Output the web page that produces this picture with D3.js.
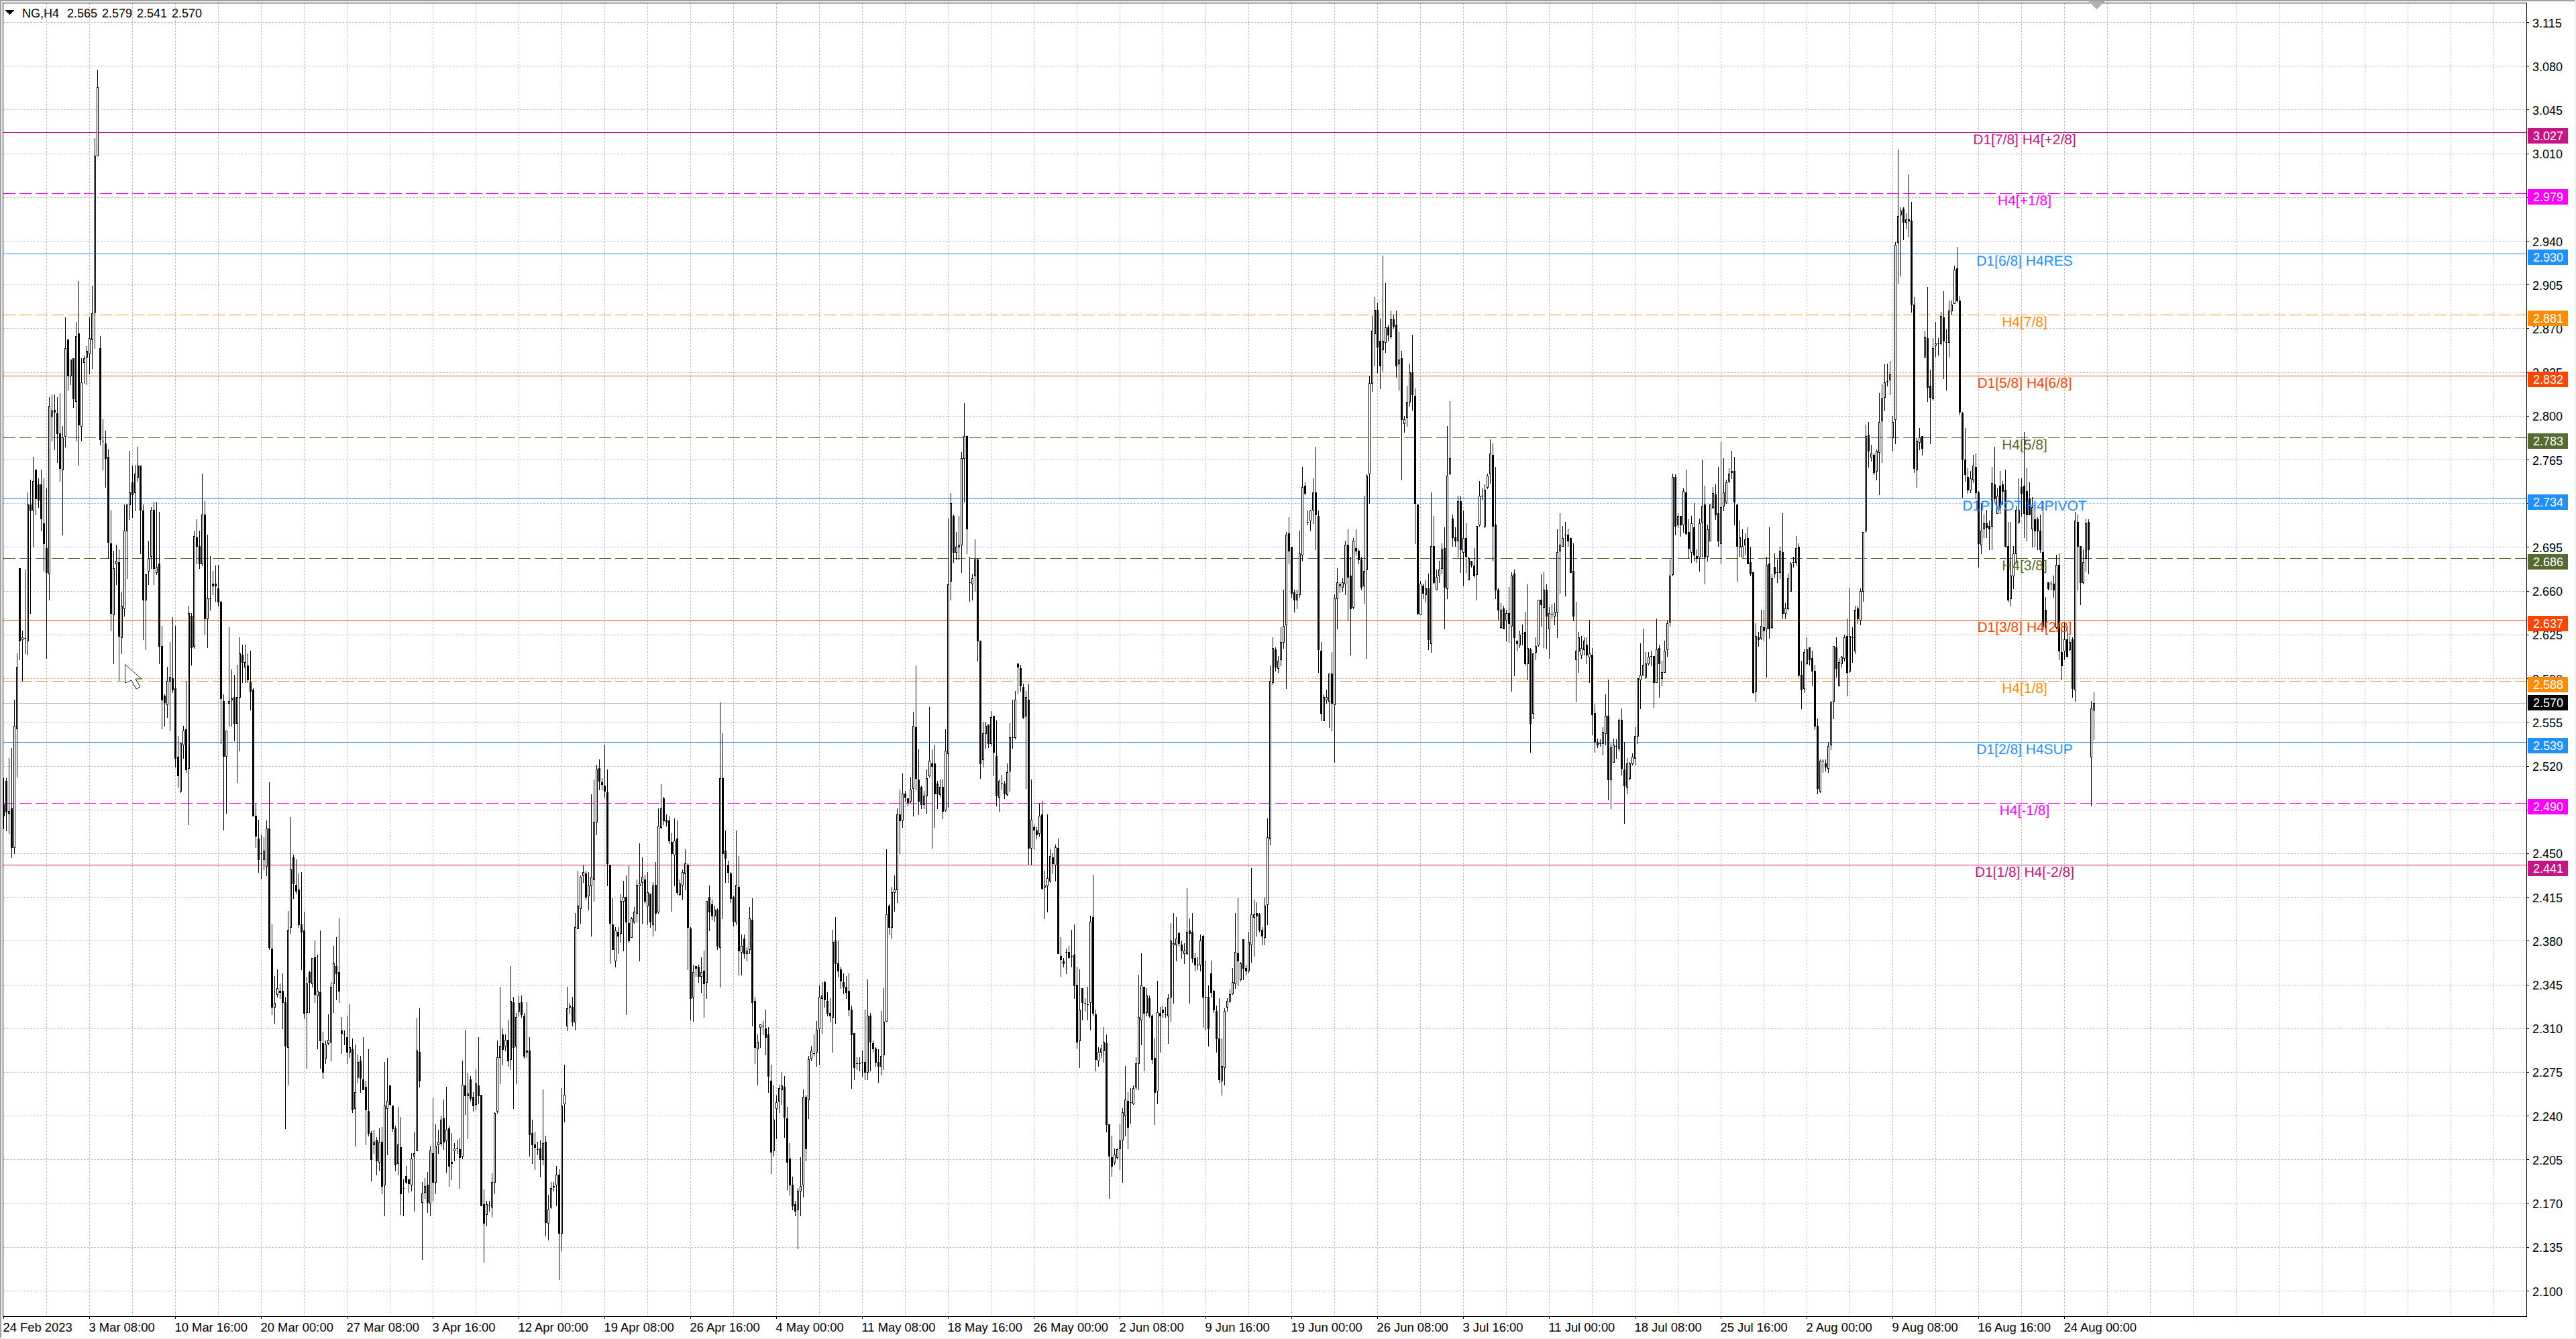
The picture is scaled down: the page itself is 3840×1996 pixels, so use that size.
<!DOCTYPE html>
<html><head><meta charset="utf-8">
<script src="https://cdn.jsdelivr.net/npm/d3@7/dist/d3.min.js"></script>
<style>html,body{margin:0;padding:0;background:#fff;overflow:hidden}svg{display:block}text{font-family:"Liberation Sans",Arial,sans-serif}</style>
</head><body><svg id="c" width="3840" height="1996"></svg>
<script>
// OHLC in thousandths: open,high,low,close repeated
const barsFebMar=[
2489,2510,2470,2480,2508,2510,2468,2483,2482,2526,2466,2484,2486,2534,2447,2455,2455,2573,2450,2552,2550,2610,2511,2599,2678,2678,2605,2620,2621,2628,2588,2623,2622,2677,2610,2622,2620,2739,2609,2729,
2729,2749,2642,2724,2725,2767,2695,2748,2757,2757,2721,2734,2745,2750,2727,2733,2745,2757,2708,2718,2714,2750,2676,2698,2694,2742,2606,2675,2674,2815,2653,2808,2800,2817,2780,2804,2805,2817,2773,2803,
2802,2815,2763,2786,2786,2818,2748,2758,2757,2792,2705,2783,2784,2879,2775,2854,2861,2861,2821,2832,2832,2845,2825,2845,2846,2846,2807,2814,2812,2875,2780,2864,2866,2908,2761,2793,2792,2846,2780,2827,
2843,2848,2826,2846,2847,2856,2825,2852,2850,2879,2834,2862,2861,2904,2838,2882,2883,3022,2854,3008,3008,3077,3008,3063,2854,2864,2777,2781,2780,2797,2757,2780,2778,2788,2743,2766,2767,2773,2686,2699,
2698,2725,2628,2642,2641,2692,2602,2678,2682,2697,2665,2684,2683,2693,2588,2624,2623,2659,2610,2648,2646,2729,2640,2708,2708,2729,2670,2729,2729,2772,2717,2739,2747,2760,2719,2737,2739,2761,2724,2754,
2751,2775,2748,2760,2760,2760,2690,2725,2724,2729,2621,2653,2653,2673,2613,2673,2676,2700,2665,2686,2688,2727,2678,2725,2725,2731,2665,2678,2675,2731,2673,2679,2682,2723,2602,2616,2616,2632,2550,2573,
2576,2577,2552,2571,2569,2599,2559,2588,2588,2619,2548,2591,2590,2639,2579,2581,2582,2632,2519,2526,2527,2544,2503,2512,2500,2538,2499,2538,2537,2552,2526,2548,2549,2588,2515,2517,2518,2648,2473,2642,
2640,2642,2601,2615,2616,2708,2614,2704,2703,2717,2682,2696,2696,2708,2678,2682,2682,2754,2680,2721,2721,2732,2625,2638,2638,2705,2615,2654,2654,2688,2645,2654,2666,2676,2657,2664,2666,2680,2652,2664,
2662,2681,2648,2651,2651,2652,2538,2574,2572,2577,2469,2528,2528,2548,2482,2548,2570,2631,2552,2572,2573,2597,2552,2574,2575,2593,2540,2554,2554,2601,2507,2575,2575,2623,2532,2610,2609,2617,2587,2603,
2599,2617,2587,2603,2600,2610,2587,2589,2587,2612,2565,2580,2581,2582,2480,2480,2480,2490,2455,2464,2462,2477,2435,2445,2450,2465,2430,2450,2445,2463,2437,2452,2440,2476,2432,2470,2470,2507,2373,2375];
const barsAprA=[
2374,2393,2321,2327,2327,2352,2314,2330,2337,2357,2335,2342,2340,2346,2334,2339,2340,2354,2310,2331,2331,2335,2230,2296,2295,2404,2265,2389,2391,2479,2386,2437,2447,2449,2414,2426,2425,2445,2418,2420,
2421,2434,2391,2393,2393,2435,2357,2387,2388,2403,2318,2322,2323,2351,2278,2346,2355,2356,2323,2347,2346,2366,2343,2366,2367,2380,2331,2337,2336,2369,2294,2340,2339,2388,2278,2300,2298,2307,2270,2275,
2286,2300,2282,2297,2298,2321,2297,2301,2299,2347,2284,2343,2346,2376,2323,2362,2360,2383,2333,2354,2355,2398,2331,2340,2308,2319,2290,2306,2305,2308,2297,2305,2303,2320,2282,2291,2291,2329,2287,2295,
2293,2302,2243,2245,2246,2297,2216,2259,2271,2289,2267,2283,2284,2288,2259,2270,2269,2303,2261,2261,2263,2268,2217,2245,2244,2293,2224,2226,2226,2228,2188,2205,2217,2229,2210,2219,2221,2223,2193,2204,
2203,2230,2196,2219,2219,2231,2178,2184,2185,2283,2160,2248,2246,2286,2209,2252,2264,2264,2248,2249,2248,2248,2228,2230,2230,2232,2196,2201,2202,2247,2193,2217,2215,2239,2161,2178,2182,2189,2160,2182,
2192,2200,2186,2187,2189,2189,2179,2186,2185,2210,2180,2206,2208,2227,2164,2210,2212,2318,2212,2292,2291,2326,2263,2268,2171,2187,2125,2178,2179,2190,2174,2184,2185,2195,2163,2171,2170,2216,2160,2212,
2210,2254,2172,2187,2187,2233,2178,2216,2217,2229,2210,2219,2218,2240,2216,2237,2238,2253,2213,2219,2220,2263,2195,2229,2230,2232,2184,2200,2203,2226,2189,2202,2212,2218,2204,2214,2214,2221,2210,2214,
2213,2222,2182,2207,2208,2284,2206,2265,2264,2309,2241,2256,2256,2274,2222,2258,2269,2272,2252,2254,2255,2259,2244,2248,2249,2277,2245,2266,2264,2303,2250,2256,2257,2257,2168,2168,2169,2181,2123,2154,
2161,2172,2152,2169,2168,2172,2164,2168,2167,2194,2159,2187,2187,2243,2178,2242,2244,2300,2242,2287,2287,2343,2266,2296,2305,2310,2281,2293,2296,2305,2292,2301,2301,2317,2280,2284,2285,2360,2277,2332,
2331,2335,2246,2295,2296,2322,2266,2319,2324,2336,2320,2330,2331,2336,2319,2321,2320,2322,2286,2288,2292,2331,2287,2291,2292,2303,2208,2225,2226,2237,2202,2217,2217,2227,2197,2215,2213,2219,2209,2213,
2214,2220,2191,2205,2205,2261,2201,2218,2219,2224,2144,2155,2154,2177,2141,2165];
const barsMay=[
2167,2187,2166,2182,2183,2187,2180,2184,2185,2200,2168,2193,2193,2197,2109,2146,2146,2262,2132,2248,2250,2281,2235,2257,2312,2343,2308,2326,2327,2330,2322,2328,2327,2335,2312,2315,2315,2402,2309,2391,
2390,2436,2390,2408,2406,2432,2394,2431,2432,2441,2427,2435,2434,2436,2413,2415,2416,2435,2405,2424,2424,2497,2384,2431,2429,2509,2412,2475,2475,2521,2465,2517,2518,2525,2501,2508,2507,2510,2501,2505,
2504,2537,2495,2500,2499,2517,2424,2442,2441,2441,2362,2394,2393,2414,2373,2373,2364,2391,2359,2388,2387,2391,2370,2384,2386,2417,2379,2412,2412,2428,2372,2415,2415,2432,2321,2395,2394,2440,2379,2380,
2383,2399,2383,2398,2395,2407,2394,2403,2402,2429,2395,2425,2424,2458,2364,2426,2427,2447,2394,2431,2429,2433,2410,2412,2408,2435,2393,2419,2418,2418,2391,2395,2393,2427,2384,2424,2425,2443,2388,2402,
2403,2486,2402,2472,2471,2505,2470,2486,2494,2495,2473,2476,2477,2481,2472,2475,2476,2480,2458,2460,2459,2466,2404,2450,2449,2478,2424,2460,2462,2476,2417,2419,2417,2429,2416,2426,2425,2437,2413,2435,
2434,2453,2421,2442,2441,2442,2357,2391,2390,2391,2317,2334,2335,2361,2316,2355,2360,2360,2352,2358,2359,2361,2347,2352,2352,2367,2339,2355,2356,2372,2319,2346,2347,2412,2334,2412,2415,2424,2388,2403,
2409,2413,2397,2400,2400,2408,2396,2405,2405,2406,2373,2376,2375,2571,2343,2510,2510,2546,2398,2450,2452,2468,2427,2446,2441,2444,2427,2435,2434,2435,2411,2414,2415,2416,2392,2396,2395,2468,2393,2425,
2423,2448,2353,2372,2371,2385,2353,2376,2382,2385,2366,2370,2370,2375,2364,2372,2373,2407,2370,2398,2397,2414,2312,2331,2332,2335,2282,2295,2294,2305,2265,2299,2311,2313,2295,2313,2312,2316,2305,2312,
2310,2325,2289,2303,2305,2311,2259,2272,2268,2281,2194,2211,2212,2265,2208,2237,2246,2256,2222,2251,2252,2265,2243,2262,2261,2275,2249,2264,2263,2272,2223,2239,2238,2247,2181,2203,2206,2218,2177,2185,
2185,2191,2165,2168,2169,2172,2160,2164,2165,2182,2134,2180,2180,2207,2160,2184,2185,2261,2175,2255,2255,2257,2204,2214,2253,2288,2238,2285,2286,2296,2284,2292,2290,2305,2288,2290,2291,2316,2280,2309,
2310,2344,2281,2335,2334,2347,2306,2336,2347,2348,2327,2333];
const barsJun=[
2332,2339,2320,2322,2322,2334,2315,2320,2319,2389,2291,2379,2380,2399,2314,2362,2362,2380,2351,2356,2357,2359,2342,2348,2347,2354,2338,2343,2343,2352,2334,2339,2340,2354,2320,2325,2325,2328,2262,2305,
2306,2306,2269,2279,2282,2287,2277,2282,2282,2287,2276,2282,2283,2292,2272,2283,2283,2325,2269,2275,2275,2349,2269,2320,2320,2322,2276,2299,2298,2300,2291,2294,2294,2295,2280,2283,2283,2293,2267,2280,
2280,2324,2273,2288,2289,2342,2277,2315,2316,2453,2316,2401,2408,2409,2385,2391,2391,2423,2382,2419,2419,2432,2404,2421,2421,2486,2411,2481,2481,2501,2450,2476,2477,2514,2471,2498,2498,2500,2492,2495,
2494,2494,2488,2491,2492,2511,2491,2501,2502,2563,2480,2552,2551,2600,2501,2510,2509,2533,2481,2492,2503,2504,2486,2489,2489,2500,2486,2496,2496,2517,2482,2510,2512,2567,2511,2524,2522,2533,2454,2520,
2522,2537,2471,2498,2506,2508,2486,2498,2497,2509,2495,2503,2503,2509,2478,2484,2485,2549,2484,2532,2530,2718,2487,2665,2668,2738,2653,2730,2720,2721,2683,2691,2691,2707,2685,2695,2695,2720,2685,2697,
2697,2771,2675,2766,2766,2810,2731,2784,2784,2784,2690,2710,2667,2687,2652,2667,2666,2673,2653,2670,2672,2701,2660,2685,2685,2686,2604,2620,2620,2620,2510,2522,2525,2555,2519,2546,2546,2555,2534,2552,
2553,2553,2535,2538,2538,2564,2536,2559,2560,2560,2512,2531,2528,2556,2488,2496,2495,2509,2484,2508,2506,2513,2501,2506,2506,2508,2494,2498,2497,2522,2496,2515,2516,2554,2500,2543,2543,2573,2534,2543,
2543,2580,2542,2573,2602,2602,2578,2599,2598,2601,2580,2584,2583,2586,2558,2559,2560,2580,2502,2575,2573,2586,2441,2454,2454,2509,2441,2477,2471,2473,2453,2469,2468,2471,2462,2465,2466,2490,2464,2480,
2481,2492,2421,2422,2423,2436,2398,2424,2424,2481,2403,2430,2428,2453,2427,2448,2447,2450,2434,2442,2441,2457,2428,2455,2454,2462,2370,2370,2368,2383,2352,2365,2364,2366,2359,2362,2371,2374,2354,2371,
2371,2376,2366,2367,2368,2389,2359,2368,2369,2393,2334,2344,2345,2359,2294,2299,2300,2357,2279,2325,2342,2342,2317,2331,2330,2334,2324,2330,2329,2343,2317,2329,2331,2400,2309,2395,2399,2433,2320,2322,
2321,2325,2276,2285,2284,2295,2280,2291,2291,2297,2287,2294,2292,2311,2283,2299];
const barsJul=[
2298,2305,2227,2233,2233,2233,2174,2208,2207,2224,2192,2200,2203,2214,2201,2209,2207,2214,2206,2213,2214,2233,2197,2220,2221,2246,2187,2243,2240,2280,2224,2253,2252,2259,2214,2231,
2251,2262,2234,2251,2250,2264,2249,2262,2263,2287,2261,2282,2282,2353,2261,2319,2317,2370,2297,2344,2343,2343,2276,2322,2323,2342,2320,2336,2334,2336,2319,2320,2320,2321,2282,2285,2286,2302,2233,2259,
2260,2348,2250,2323,2322,2327,2291,2320,2325,2328,2319,2323,2321,2327,2319,2321,2320,2337,2298,2334,2335,2394,2316,2380,2377,2402,2330,2378,2377,2399,2364,2382,2386,2387,2376,2378,2377,2380,2366,2372,
2370,2378,2362,2372,2370,2422,2369,2387,2388,2398,2330,2386,2387,2402,2363,2366,2366,2370,2356,2361,2361,2367,2357,2361,2361,2385,2356,2380,2384,2385,2311,2335,2335,2364,2309,2335,2335,2344,2296,2310,
2354,2364,2335,2339,2340,2341,2323,2325,2324,2328,2291,2302,2302,2334,2267,2269,2268,2302,2257,2280,2279,2326,2265,2324,2327,2334,2324,2332,2332,2341,2331,2337,2338,2358,2337,2347,2346,2402,2342,2371,
2370,2414,2344,2364,2349,2363,2348,2362,2381,2381,2349,2358,2358,2361,2353,2356,2356,2387,2355,2379,2377,2438,2363,2401,2399,2413,2368,2401,2402,2411,2384,2400,2401,2402,2387,2389,2389,2391,2377,2384,
2383,2415,2377,2408,2409,2478,2393,2463,2462,2600,2457,2588,2587,2623,2585,2614,2613,2615,2596,2599,2598,2608,2595,2604,2605,2631,2600,2619,2619,2661,2614,2632,2633,2707,2582,2705,2706,2719,2682,2692,
2695,2695,2655,2658,2659,2661,2643,2653,2653,2661,2646,2657,2657,2708,2655,2690,2689,2759,2684,2743,2744,2747,2737,2738,2715,2724,2713,2715,2716,2725,2708,2724,2725,2750,2714,2739,2739,2775,2693,2721,
2720,2724,2595,2613,2612,2619,2556,2562,2556,2577,2556,2575,2573,2581,2570,2575,2572,2594,2551,2594,2594,2611,2548,2570,2569,2657,2523,2654,2654,2678,2630,2667,2664,2667,2659,2665,2663,2670,2660,2667,
2666,2700,2657,2697,2697,2709,2636,2671,2672,2687,2609,2646,2647,2702,2646,2700,2694,2709,2689,2692,2692,2693,2682,2685,2685,2687,2661,2663,2664,2736,2650,2676,2677,2753,2606,2752,2754,2832,2730,2826,
2826,2880,2820,2868,2866,2895,2840,2885,2885,2890,2835,2855,2860,2878,2822,2840];
const barsJulAug=[
2853,2928,2836,2860,2859,2906,2851,2871,2871,2873,2860,2865,2864,2884,2862,2877,2877,2881,2870,2872,2873,2884,2831,2840,2842,2867,2821,2845,2846,2852,2749,2797,2794,2800,2787,2797,2799,2824,2792,2811,
2811,2842,2808,2835,2835,2865,2805,2817,2816,2822,2698,2730,2729,2729,2641,2642,2641,2668,2641,2666,2664,2666,2654,2658,2657,2669,2651,2662,2662,2674,2613,2621,2618,2739,2611,2696,2696,2720,2666,2667,
2661,2677,2661,2671,2672,2684,2667,2677,2678,2698,2674,2693,2694,2711,2630,2663,2662,2792,2654,2752,2754,2812,2753,2766,2718,2721,2696,2703,2703,2711,2696,2700,2700,2736,2687,2732,2732,2736,2675,2693,
2691,2724,2664,2702,2702,2714,2675,2688,2669,2687,2669,2686,2684,2684,2679,2681,2680,2694,2671,2672,2673,2712,2653,2712,2713,2748,2712,2736,2736,2742,2733,2736,2712,2745,2711,2741,2743,2754,2742,2752,
2754,2781,2746,2770,2769,2778,2684,2712,2713,2759,2654,2661,2661,2662,2637,2645,2631,2650,2630,2645,2646,2648,2630,2630,2637,2645,2620,2642,2642,2663,2619,2634,2632,2675,2580,2672,2674,2677,2592,2623,
2620,2620,2612,2618,2617,2628,2615,2625,2626,2633,2617,2626,2627,2643,2600,2602,2602,2665,2589,2614,2613,2614,2531,2554,2562,2610,2558,2610,2611,2623,2605,2616,2617,2653,2616,2653,2653,2673,2632,2649,
2647,2675,2615,2661,2661,2665,2614,2640,2630,2647,2606,2642,2641,2649,2638,2641,2640,2650,2633,2643,2643,2709,2623,2691,2692,2722,2658,2697,2696,2712,2696,2702,2705,2715,2656,2705,2705,2710,2696,2700,
2702,2703,2675,2675,2676,2698,2636,2640,2605,2651,2572,2612,2612,2627,2595,2623,2609,2624,2606,2614,2613,2623,2609,2620,2617,2623,2602,2609,2607,2637,2587,2610,2609,2614,2545,2561,2562,2569,2531,2539,
2539,2542,2535,2537,2538,2541,2536,2538,2538,2551,2529,2547,2546,2577,2537,2560,2560,2589,2493,2509,2509,2538,2486,2535,2523,2542,2523,2537,2536,2541,2526,2536,2534,2558,2532,2557,2557,2566,2513,2518,
2517,2539,2474,2504,2503,2526,2498,2522,2510,2523,2509,2522,2522,2530,2521,2527,2526,2551,2521,2544,2544,2590,2538,2590,2589,2618,2566,2593,2593,2630,2593,2601,2591,2611,2590,2602,2602,2611,2601,2607,
2608,2612,2600,2608,2608,2608,2567,2587,2587,2638,2587,2613,2614,2617,2575,2602,2590,2604,2584,2595];
const barsAugA=[
2595,2620,2595,2612,2613,2636,2608,2634,2635,2685,2632,2672,2673,2754,2672,2751,2751,2753,2705,2712,2713,2722,2711,2720,2720,2720,2704,2713,2713,2742,2707,2740,2739,2757,2705,2706,2707,2717,2686,2694,
2691,2720,2683,2714,2711,2730,2684,2689,2688,2693,2683,2686,2687,2718,2676,2714,2715,2765,2687,2728,2729,2744,2666,2687,2688,2713,2684,2709,2700,2729,2700,2729,2727,2743,2726,2738,2737,2745,2717,2721,
2722,2759,2696,2700,2698,2779,2682,2727,2728,2766,2724,2739,2731,2749,2730,2747,2748,2758,2747,2754,2755,2772,2750,2756,2756,2767,2713,2731,2729,2729,2668,2696,2695,2716,2688,2703,2687,2709,2687,2696,
2697,2706,2689,2701,2702,2711,2682,2682,2683,2695,2672,2674,2675,2675,2578,2579,2580,2634,2572,2624,2623,2627,2616,2621,2622,2645,2621,2632,2631,2645,2620,2628,2630,2687,2591,2681,2682,2711,2622,2630,
2631,2673,2630,2670,2679,2690,2671,2674,2675,2685,2667,2675,2675,2695,2670,2692,2691,2722,2638,2642,2642,2650,2638,2646,2646,2674,2645,2670,2660,2683,2660,2682,2683,2687,2679,2683,2683,2704,2681,2694,
2695,2698,2591,2593,2593,2604,2566,2581,2582,2613,2579,2611,2602,2623,2601,2613,2615,2615,2601,2605,2606,2612,2584,2596,2596,2601,2549,2552,2552,2558,2498,2502,2500,2525,2499,2524,2524,2525,2515,2524,
2522,2525,2516,2519,2518,2539,2515,2536,2537,2572,2533,2571,2572,2616,2558,2616,2615,2623,2591,2598,2584,2606,2584,2603,2602,2608,2599,2607,2606,2625,2604,2623,2624,2638,2576,2595,2596,2662,2595,2624,
2623,2631,2603,2623,2612,2648,2610,2645,2646,2648,2634,2638,2637,2662,2633,2660,2660,2707,2652,2707,2708,2793,2707,2784,2785,2795,2759,2772,2767,2777,2764,2770,2769,2770,2753,2755,2756,2773,2749,2772,
2771,2818,2737,2795,2796,2825,2763,2814,2815,2841,2804,2827,2828,2842,2824,2828,2829,2844,2817,2833,2783,2800,2772,2795,2797,2939,2778,2937,2939,3013,2906,2960,2961,2967,2912,2964,2966,2967,2941,2955,
2955,2962,2950,2957,2957,2993,2944,2956,2956,2971,2883,2889,2889,2895,2755,2758,2757,2783,2743,2780,2779,2790,2773,2783,2784,2784,2769,2774,2847,2868,2847,2863,2862,2903,2812,2823,2824,2837,2778,2815,
2814,2862,2813,2854,2857,2875,2847,2858,2858,2862,2849,2858,2858,2883,2857,2880,2879,2900,2830,2860,2859,2869,2821,2859,2859,2892,2847,2884,2884,2892,2881,2889,2890,2920,2890,2917,2918,2935,2891,2892,
2892,2896,2801,2803];
const barsAugB=[
2802,2803,2735,2765,2765,2790,2748,2753,2751,2758,2738,2741,2741,2756,2739,2750,2749,2769,2747,2760,2759,2770,2734,2739,2739,2740,2679,2698,2697,2730,2690,2708,2710,2721,2703,2714,2714,2725,2703,2711,
2712,2716,2693,2710,2712,2759,2693,2746,2745,2775,2732,2734,2722,2742,2722,2736,2744,2756,2722,2727,2745,2748,2729,2740,2741,2757,2695,2696,2696,2715,2651,2653,2654,2715,2648,2672,2672,2696,2662,2690,
2690,2728,2683,2725,2715,2750,2714,2725,2743,2750,2720,2738,2744,2787,2703,2722,2740,2758,2700,2721,2734,2747,2721,2721,2710,2735,2695,2727,2717,2727,2696,2708,2717,2719,2693,2708,2708,2721,2691,2693,
2691,2732,2630,2632,2645,2655,2630,2631,2667,2667,2661,2662,2666,2668,2661,2666,2666,2672,2655,2661,2631,2689,2630,2681,2681,2690,2605,2612,2611,2629,2589,2600,2612,2635,2605,2621,2621,2632,2607,2608,
2613,2624,2612,2619,2621,2623,2575,2582,2581,2723,2572,2716,2715,2721,2661,2696,2696,2696,2649,2667,2667,2693,2666,2683,2686,2718,2676,2714,2715,2717,2674,2693,2527,2572,2488,2566,2565,2579,2541,2570];

const bars=[...barsFebMar,...barsAprA,...barsMay,...barsJun,...barsJul,...barsJulAug,...barsAugA,...barsAugB];
const candles=d3.range(bars.length/4).map(i=>({i,o:bars[4*i],h:bars[4*i+1],l:bars[4*i+2],c:bars[4*i+3]}));

const priceTicks=[3115,3080,3045,3010,2975,2940,2905,2870,2835,2800,2765,2730,2695,2660,2625,2590,2555,2520,2485,2450,2415,2380,2345,2310,2275,2240,2205,2170,2135,2100];
const timeLabels=["24 Feb 2023","3 Mar 08:00","10 Mar 16:00","20 Mar 00:00","27 Mar 08:00","3 Apr 16:00","12 Apr 00:00","19 Apr 08:00","26 Apr 16:00","4 May 00:00","11 May 08:00","18 May 16:00","26 May 00:00","2 Jun 08:00","9 Jun 16:00","19 Jun 00:00","26 Jun 08:00","3 Jul 16:00","11 Jul 00:00","18 Jul 08:00","25 Jul 16:00","2 Aug 00:00","9 Aug 08:00","16 Aug 16:00","24 Aug 00:00"];
const levelPrices=[3027,2978.2,2930,2881,2832,2783,2734,2686,2637,2588,2539,2490,2441];
const levelTexts=["3.027","2.979","2.930","2.881","2.832","2.783","2.734","2.686","2.637","2.588","2.539","2.490","2.441"];
const levelNames=["D1[7/8] H4[+2/8]","H4[+1/8]","D1[6/8] H4RES","H4[7/8]","D1[5/8] H4[6/8]","H4[5/8]","D1PIVOT H4PIVOT","H4[3/8]","D1[3/8] H4[2/8]","H4[1/8]","D1[2/8] H4SUP","H4[-1/8]","D1[1/8] H4[-2/8]"];
const levelColors=["#C71585","#FF00FF","#1E90FF","#FF8C00","#FF4500","#556B2F","#1E90FF","#556B2F","#FF4500","#FF8C00","#1E90FF","#FF00FF","#C71585"];
const levelDashed=[0,1,0,1,0,1,0,1,0,1,0,1,0];
const bidPrice=2570;
const headerSymbol="NG,H4";
const headerValues=["2.565","2.579","2.541","2.570"];

const svg=d3.select("#c").attr("shape-rendering","crispEdges");
const x=d3.scaleLinear().domain([0,779]).range([5,3121]);
const y=d3.scaleLinear().domain([2100,3115]).range([1924,33]);
const py=v=>Math.round(y(v))+0.5;
const fmt=v=>(v/1000).toFixed(3);
const L=5,R=3766,T=4,B=1962;

svg.append("rect").attr("width",3840).attr("height",1996).attr("fill","#fff");
svg.append("rect").attr("width",3840).attr("height",2).attr("fill","#a0a0a0");
svg.append("rect").attr("width",2).attr("height",1996).attr("fill","#a0a0a0");
svg.append("rect").attr("x",3838).attr("width",2).attr("height",1996).attr("fill","#f0f0f0");
svg.append("rect").attr("y",1994).attr("width",3840).attr("height",2).attr("fill","#f0f0f0");

// grid
const grid=svg.append("g").attr("stroke","#c0c0c0").attr("stroke-dasharray","3,2");
grid.selectAll(".v").data(d3.range(16,929,16)).join("line")
  .attr("x1",d=>x(d)+.5).attr("x2",d=>x(d)+.5).attr("y1",T+1).attr("y2",B);
grid.selectAll(".h").data(priceTicks).join("line")
  .attr("x1",L).attr("x2",R).attr("y1",py).attr("y2",py);

// level lines
const levels=levelPrices.map((p,k)=>({p,t:levelTexts[k],n:levelNames[k],col:levelColors[k],d:levelDashed[k]}));
svg.append("g").selectAll("line").data(levels).join("line")
  .attr("x1",L).attr("x2",R).attr("y1",d=>py(d.p)).attr("y2",d=>py(d.p))
  .attr("stroke",d=>d.col).attr("stroke-dasharray",d=>d.d?"18,6":null);
svg.append("line").attr("x1",L).attr("x2",R).attr("y1",py(bidPrice)).attr("y2",py(bidPrice)).attr("stroke","#c0c0c0");

// candles
const cg=svg.append("g");
cg.selectAll(".w").data(candles).join("line")
  .attr("x1",d=>x(d.i)+.5).attr("x2",d=>x(d.i)+.5)
  .attr("y1",d=>Math.round(y(d.h))).attr("y2",d=>Math.round(y(d.l))+1).attr("stroke","#000");
cg.selectAll(".b").data(candles).join("rect")
  .attr("x",d=>x(d.i)-1).attr("width",3)
  .attr("y",d=>Math.round(y(Math.max(d.o,d.c))))
  .attr("height",d=>Math.max(1,Math.round(y(Math.min(d.o,d.c)))-Math.round(y(Math.max(d.o,d.c)))+1))
  .attr("fill","#000");
cg.selectAll(".f").data(candles.filter(d=>d.c>d.o)).join("rect")
  .attr("x",d=>x(d.i)).attr("width",1)
  .attr("y",d=>Math.round(y(d.c))+1)
  .attr("height",d=>Math.max(0,Math.round(y(d.o))-Math.round(y(d.c))-1))
  .attr("fill","#fff");

// level captions
svg.append("g").attr("text-anchor","middle").attr("font-size",21).attr("text-rendering","geometricPrecision")
  .selectAll("text").data(levels).join("text")
  .attr("x",3018).attr("y",d=>py(d.p)+17).attr("fill",d=>d.col).text(d=>d.n);

// frame
svg.append("rect").attr("x",4.5).attr("y",T+.5).attr("width",R-4).attr("height",B-T)
  .attr("fill","none").attr("stroke","#000");

// axes
const yAxis=d3.axisRight(y).tickValues(priceTicks).tickFormat(fmt).tickSize(4).tickPadding(5);
const ya=svg.append("g").attr("transform",`translate(${R},0)`).call(yAxis);
ya.select(".domain").remove();
ya.selectAll("line").attr("stroke","#000");
ya.selectAll("text").attr("dy",7).attr("font-size",18).attr("font-family","Liberation Sans").attr("fill","#000");

const xAxis=d3.axisBottom(x).tickValues(timeLabels.map((_,k)=>k*32)).tickFormat((d,k)=>timeLabels[k]).tickSize(4);
const xa=svg.append("g").attr("transform",`translate(0,${B})`).call(xAxis);
xa.select(".domain").remove();
xa.selectAll("line").attr("stroke","#000");
xa.selectAll("text").attr("text-anchor","start").attr("x",-1).attr("y",0).attr("dy",22.6).attr("font-size",18.4).attr("font-family","Liberation Sans").attr("fill","#000");

// price boxes
const boxes=svg.append("g").selectAll("g").data(levels).join("g").attr("transform",d=>`translate(3768,${py(d.p)-.5})`);
boxes.append("rect").attr("y",-6).attr("width",60).attr("height",23).attr("fill",d=>d.col);
boxes.append("text").attr("x",8).attr("y",12).attr("font-size",18).attr("fill","#fff").text(d=>d.t);
const bid=svg.append("g").attr("transform",`translate(3768,${py(bidPrice)-.5})`);
bid.append("rect").attr("y",-12).attr("width",60).attr("height",23).attr("fill","#000");
bid.append("text").attr("x",8).attr("y",6).attr("font-size",18).attr("fill","#fff").text(fmt(bidPrice));

// header
svg.append("path").attr("d","M8,15L21,15L14.5,22Z").attr("fill","#000");
svg.append("text").attr("x",33).attr("y",26).attr("font-size",18).text(headerSymbol);
svg.append("g").selectAll("text").data(headerValues).join("text")
  .attr("x",(d,k)=>100+52*k).attr("y",26).attr("font-size",18).text(d=>d);

// shift marker and mouse pointer
svg.append("path").attr("d","M3113,2L3137,2L3125,14Z").attr("fill","#b0b0b0");
svg.append("path").attr("d","M186.5,990.5L186.5,1018L196,1014L203,1027L209,1024L202,1012L211,1012Z")
  .attr("fill","#fff").attr("stroke","#222").attr("shape-rendering","auto");
</script></body></html>
